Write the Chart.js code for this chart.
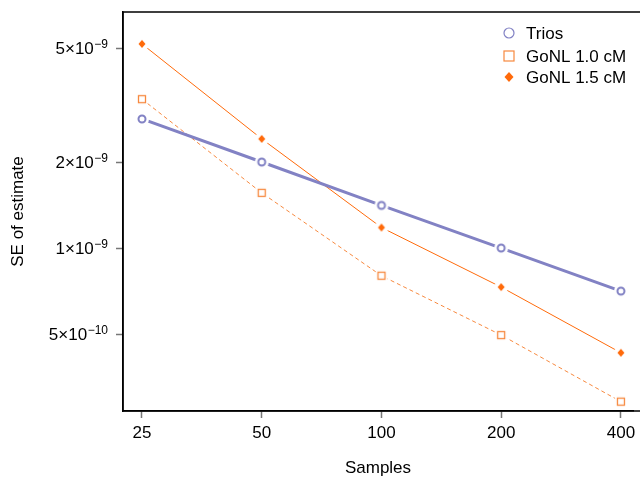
<!DOCTYPE html>
<html>
<head>
<meta charset="utf-8">
<script src="https://cdn.jsdelivr.net/npm/chart.js@4.4.0/dist/chart.umd.min.js"></script>
<style>
  body { margin: 0; background: #fff; }
  #chart { display: block; }
</style>
</head>
<body>
<canvas id="chart" width="640" height="479"></canvas>
<script>
const samples = [25, 50, 100, 200, 400];
const trios = [2.83e-9, 2.0e-9, 1.41e-9, 1.0e-9, 7.07e-10];
const gonl10 = [3.32e-9, 1.56e-9, 8.0e-10, 4.96e-10, 2.9e-10];
const gonl15 = [5.18e-9, 2.41e-9, 1.18e-9, 7.3e-10, 4.3e-10];

const xTicks = [25, 50, 100, 200, 400];
const yTicks = [5e-10, 1e-9, 2e-9, 5e-9];
// mantissa and exponent of each y tick label
const yTickBase = ['5×10', '1×10', '2×10', '5×10'];
const yTickExp = ['−10', '−9', '−9', '−9'];

const FONT = '"Liberation Sans", Arial, sans-serif';
Chart.defaults.font.family = FONT;
Chart.defaults.color = '#000';

const C_TRIOS = '#8282c4';
const C_G10 = '#f7893f';
const C_G15 = '#ff6a0a';

// marker with a white halo so the line stops short of the point (R type="b")
function makeMarker(kind, color) {
  const c = document.createElement('canvas');
  c.width = 18; c.height = 18;
  const g = c.getContext('2d');
  g.fillStyle = '#fff';
  g.beginPath(); g.arc(9, 9, 7, 0, Math.PI * 2); g.fill();
  g.strokeStyle = color;
  g.fillStyle = color;
  if (kind === 'circle') {
    g.lineWidth = 2;
    g.beginPath(); g.arc(9, 9, 3.5, 0, Math.PI * 2); g.stroke();
  } else if (kind === 'square') {
    g.lineWidth = 1.3;
    g.strokeRect(5.5, 5.5, 7, 7);
  } else {
    g.beginPath();
    g.moveTo(9, 5); g.lineTo(12.5, 9); g.lineTo(9, 13); g.lineTo(5.5, 9);
    g.closePath(); g.fill();
  }
  return c;
}

const pts = arr => samples.map((s, i) => ({ x: s, y: arr[i] }));

const data = {
  datasets: [
    {
      label: 'Trios',
      marker: 'circle',
      data: pts(trios),
      borderColor: C_TRIOS,
      borderWidth: 3,
      pointStyle: makeMarker('circle', C_TRIOS)
    },
    {
      label: 'GoNL 1.0 cM',
      marker: 'square',
      data: pts(gonl10),
      borderColor: C_G10,
      borderWidth: 1,
      borderDash: [4, 3],
      pointStyle: makeMarker('square', C_G10)
    },
    {
      label: 'GoNL 1.5 cM',
      marker: 'diamond',
      data: pts(gonl15),
      borderColor: C_G15,
      borderWidth: 1,
      pointStyle: makeMarker('diamond', C_G15)
    }
  ]
};

// box round the plot, y tick labels with superscripts, legend top right
const boxAndLegend = {
  id: 'boxAndLegend',
  afterDraw(chart) {
    const ctx = chart.ctx;
    const a = chart.chartArea;
    ctx.save();
    ctx.strokeStyle = '#000';
    ctx.lineWidth = 1.5;
    // right side of the box sits just off the canvas, like the original
    ctx.strokeRect(a.left, a.top, chart.width + 5 - a.left, a.bottom - a.top);

    const ys = chart.scales.y;
    ctx.fillStyle = '#000';
    ctx.textBaseline = 'alphabetic';
    yTicks.forEach((v, i) => {
      const py = ys.getPixelForValue(v);
      ctx.font = '12px ' + FONT;
      const ew = ctx.measureText(yTickExp[i]).width;
      ctx.textAlign = 'right';
      ctx.fillText(yTickExp[i], 108, py + 0);
      ctx.font = '17px ' + FONT;
      ctx.fillText(yTickBase[i], 108 - ew - 0.5, py + 6);
    });

    const rows = [33, 56, 77];
    ctx.font = '17px ' + FONT;
    ctx.textBaseline = 'middle';
    chart.data.datasets.forEach((ds, i) => {
      const y = rows[i];
      const x = 509;
      const col = ds.borderColor;
      ctx.strokeStyle = col;
      ctx.fillStyle = col;
      ctx.lineWidth = 1.2;
      if (ds.marker === 'circle') {
        ctx.beginPath();
        ctx.arc(x, y, 5, 0, Math.PI * 2);
        ctx.stroke();
      } else if (ds.marker === 'square') {
        ctx.strokeRect(x - 5, y - 5, 10, 10);
      } else {
        ctx.beginPath();
        ctx.moveTo(x, y - 5);
        ctx.lineTo(x + 4.5, y);
        ctx.lineTo(x, y + 5);
        ctx.lineTo(x - 4.5, y);
        ctx.closePath();
        ctx.fill();
      }
      ctx.fillStyle = '#000';
      ctx.textAlign = 'left';
      ctx.fillText(ds.label, 526, y + 1);
    });
    ctx.restore();
  }
};

const noPad = s => {
  s.paddingLeft = 0; s.paddingRight = 0; s.paddingTop = 0; s.paddingBottom = 0;
};

const config = {
  type: 'line',
  data: data,
  options: {
    responsive: false,
    animation: false,
    layout: { padding: { top: 12, right: 0, left: 0, bottom: 0 } },
    plugins: {
      legend: { display: false },
      tooltip: { enabled: false }
    },
    scales: {
      x: {
        type: 'logarithmic',
        min: 22.4,
        max: 429,
        afterBuildTicks: s => { s.ticks = xTicks.map(v => ({ value: v })); },
        afterFit: s => { s.height = 68; noPad(s); },
        grid: { drawOnChartArea: false, drawTicks: true, tickLength: 7, tickColor: '#777', tickWidth: 1.5 },
        border: { display: true, color: '#000', width: 1.5 },
        ticks: {
          font: { size: 17 },
          color: '#000',
          padding: 5,
          maxRotation: 0,
          autoSkip: false,
          callback: v => String(v)
        },
        title: {
          display: true,
          text: 'Samples',
          font: { size: 17 },
          color: '#000',
          padding: { top: 11, bottom: 0 }
        }
      },
      y: {
        type: 'logarithmic',
        min: 2.69e-10,
        max: 6.7e-9,
        afterBuildTicks: s => { s.ticks = yTicks.map(v => ({ value: v })); },
        afterFit: s => { s.width = 123; noPad(s); },
        grid: { drawOnChartArea: false, drawTicks: true, tickLength: 7, tickColor: '#777', tickWidth: 1.5 },
        border: { display: true, color: '#000', width: 1.5 },
        ticks: {
          font: { size: 17 },
          color: 'rgba(0,0,0,0)',
          padding: 7,
          autoSkip: false,
          callback: v => yTickBase[yTicks.indexOf(v)] + yTickExp[yTicks.indexOf(v)]
        },
        title: {
          display: true,
          text: 'SE of estimate',
          font: { size: 17 },
          color: '#000',
          padding: { top: 8, bottom: 0 }
        }
      }
    }
  },
  plugins: [boxAndLegend]
};

const myChart = new Chart(document.getElementById('chart'), config);
</script>
</body>
</html>
